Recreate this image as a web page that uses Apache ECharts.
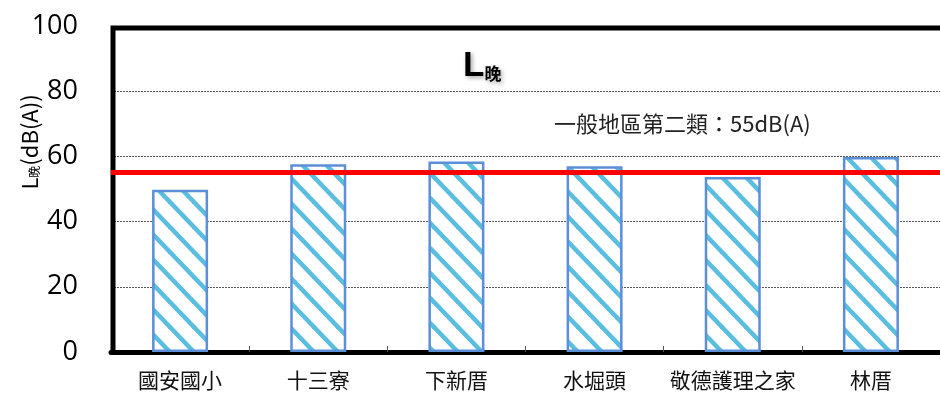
<!DOCTYPE html>
<html>
<head>
<meta charset="utf-8">
<script src="https://cdn.jsdelivr.net/npm/echarts@6/dist/echarts.min.js"></script>
<style>
  html, body { margin: 0; padding: 0; background: #fff; }
  #chart1 { width: 940px; height: 393px; }
</style>
</head>
<body>
<div id="chart1"></div>
<script>
// 測站與 L晚 數值
var stations = ['國安國小', '十三寮', '下新厝', '水堀頭', '敬德護理之家', '林厝'];
var lEvening = [49.8, 57.6, 58.4, 57.0, 53.7, 59.8];
var standard = 55;
var yTicks = [0, 20, 40, 60, 80, 100];

// 斜線填充
function stripePattern() {
    var w = 24, h = 25;
    var c = document.createElement('canvas');
    c.width = w; c.height = h;
    var ctx = c.getContext('2d');
    ctx.fillStyle = '#fff';
    ctx.fillRect(0, 0, w, h);
    ctx.strokeStyle = '#5bbde0';
    ctx.lineWidth = 4.5;
    for (var k = -1; k <= 1; k++) {
        ctx.beginPath();
        ctx.moveTo(-w, k * h - h);
        ctx.lineTo(2 * w, k * h + 2 * h);
        ctx.stroke();
    }
    return c;
}

var font = '"Noto Sans CJK TC", "Noto Sans", sans-serif';
var chart = echarts.init(document.getElementById('chart1'));

var option = {
    animation: false,
    textStyle: { fontFamily: font },
    title: {
        text: '{a|L}{b|晚}',
        left: 458,
        top: 44,
        textStyle: {
            rich: {
                a: { fontSize: 35, fontWeight: 'bold', color: '#000', fontFamily: 'Liberation Sans',
                     textShadowColor: 'rgba(0,0,0,0.35)', textShadowBlur: 4, textShadowOffsetX: 2, textShadowOffsetY: 2 },
                b: { fontSize: 17, fontWeight: 'bold', color: '#000', fontFamily: font, padding: [14, 0, 0, 0],
                     textShadowColor: 'rgba(0,0,0,0.35)', textShadowBlur: 4, textShadowOffsetX: 2, textShadowOffsetY: 2 }
            }
        }
    },
    graphic: [{
        // 外框 (上、左)
        type: 'polyline',
        z: 1,
        shape: { points: [[113, 352], [113, 28], [960, 28]] },
        style: { stroke: '#000', lineWidth: 5, fill: null }
    }, {
        type: 'text',
        x: 30,
        y: 142,
        rotation: Math.PI / 2,
        style: {
            text: '{a|L}{b|晚}{a|(dB(A))}',
            align: 'center',
            verticalAlign: 'middle',
            rich: {
                a: { fontSize: 22, color: '#000', fontFamily: font },
                b: { fontSize: 12, color: '#000', fontFamily: font, padding: [9, 0, 0, 0] }
            }
        }
    }, {
        type: 'text',
        x: 554,
        y: 124,
        style: {
            text: '一般地區第二類：55dB(A)',
            fontSize: 22,
            fill: '#222',
            fontFamily: font,
            verticalAlign: 'middle'
        }
    }],
    grid: {
        left: 111,
        top: 26,
        width: 836,
        height: 326
    },
    xAxis: {
        type: 'category',
        data: stations,
        axisLine: { lineStyle: { color: '#000', width: 5 } },
        axisTick: { show: true, inside: true, length: 6, lineStyle: { color: '#555', width: 1 } },
        axisLabel: { fontSize: 21, color: '#111', margin: 18, interval: 0 }
    },
    yAxis: {
        type: 'value',
        min: yTicks[0],
        max: yTicks[yTicks.length - 1],
        interval: 20,
        axisLine: { show: false },
        axisTick: { show: false },
        axisLabel: { fontSize: 27, color: '#000', margin: 33, fontFamily: '"Open Sans", "Noto Sans", sans-serif' },
        splitLine: { lineStyle: { color: '#555', type: [2, 1], width: 1 } }
    },
    series: [{
        type: 'bar',
        data: lEvening,
        barWidth: 56,
        itemStyle: {
            color: { image: stripePattern(), repeat: 'repeat' },
            borderColor: '#5b8fd8',
            borderWidth: 2.5
        },
        markLine: {
            silent: true,
            symbol: ['none', 'none'],
            label: { show: false },
            lineStyle: { color: '#ff0000', width: 5, type: 'solid' },
            data: [{ yAxis: standard }]
        }
    }]
};

chart.setOption(option);
</script>
</body>
</html>
